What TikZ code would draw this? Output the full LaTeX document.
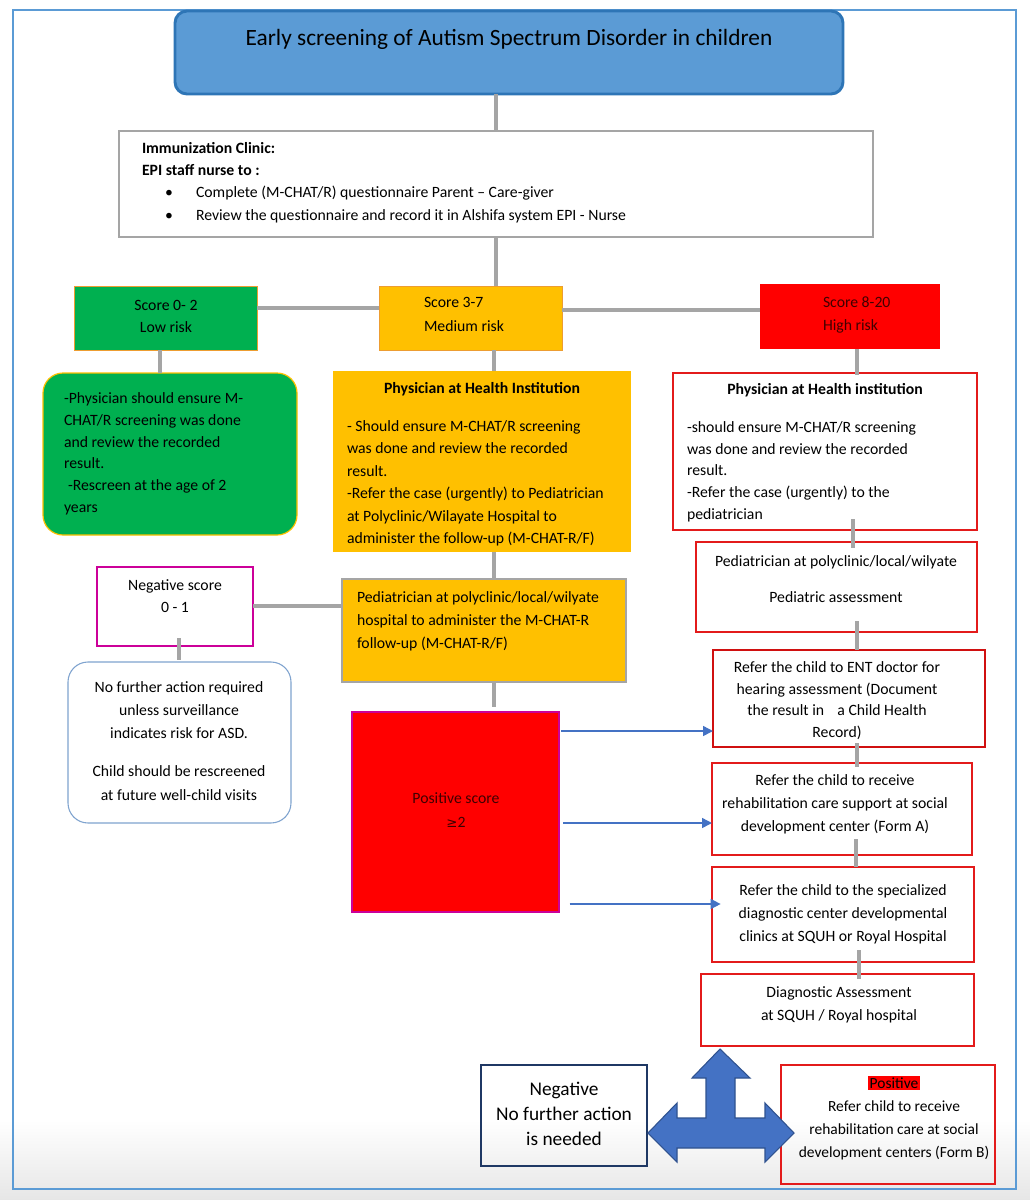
\documentclass[tikz,border=0pt]{standalone}
\usepackage{fontspec}
\setmainfont{Carlito}
\newfontfamily\dejavu{DejaVu Sans}
\usetikzlibrary{fit,arrows.meta}
\definecolor{frameblue}{HTML}{5B9BD5}
\definecolor{titlefill}{HTML}{5B9BD5}
\definecolor{titledraw}{HTML}{2E75B6}
\definecolor{barg}{HTML}{A5A5A5}
\definecolor{riskgreen}{HTML}{00B050}
\definecolor{amber}{HTML}{FFC000}
\definecolor{riskred}{HTML}{FF0000}
\definecolor{boxred}{HTML}{E31B1B}
\definecolor{entred}{HTML}{D01010}
\definecolor{edgeorange}{HTML}{ED9D31}
\definecolor{magentaedge}{HTML}{CC0099}
\definecolor{noactedge}{HTML}{7FA3CF}
\definecolor{navyedge}{HTML}{1F3864}
\definecolor{arrblue}{HTML}{4472C4}
\definecolor{arrdark}{HTML}{2F528F}
\definecolor{onred}{HTML}{400000}
\definecolor{bottomgray}{HTML}{E6E6E6}
\begin{document}
\begin{tikzpicture}[x=0.75pt,y=-0.75pt,
  bar/.style={draw=barg, line width=3.7pt},
  bx/.style={inner sep=0pt, outer sep=0pt},
  tl/.style 2 args={inner sep=0pt, outer sep=0pt, font=\fontsize{#1}{#2}\selectfont, yshift=0.7*#2-0.28*#1},
  arr/.style={draw=arrblue, line width=1.1pt, -{Triangle[length=7.5pt,width=7.5pt]}},
  redbox/.style={bx, draw=boxred, line width=1pt, fill=white},
]
\useasboundingbox (0,0) rectangle (1030,1200);
\fill[white] (0,0) rectangle (1030,1200);
\shade[top color=white, bottom color=bottomgray] (0,1120) rectangle (1030,1200);
\node[bx, draw=frameblue, line width=1.1pt, fit={(13,10) (1016,1189)}] (frame) {};

% ---------- title ----------
\node[bx, draw=titledraw, fill=titlefill, line width=2.2pt, rounded corners=9pt, fit={(175,11) (843,94)}] (title) {};
\node[tl={17.5pt}{21pt}, anchor=north] (titletxt) at (509,39) {\strut Early screening of Autism Spectrum Disorder in children};

% ---------- immunization ----------
\node[bx, draw=barg, line width=1.2pt, fill=white, fit={(119,131) (873,237)}] (imm) {};
\node[tl={11.8pt}{16.5pt}, anchor=north west, align=left] (immhead) at (142,149) {\strut\textbf{Immunization Clinic:}\\\textbf{EPI staff nurse to :}};
\node[tl={11.8pt}{17pt}, anchor=north west, align=left] (immbul) at (165,193) {\strut\textbullet\\\textbullet};
\node[tl={11.8pt}{17pt}, anchor=north west, align=left] (immtxt) at (196,193) {\strut Complete (M-CHAT/R) questionnaire Parent -- Care-giver\\Review the questionnaire and record it in Alshifa system EPI - Nurse};

% ---------- scores ----------
\node[bx, fill=riskgreen, draw=edgeorange, line width=0.7pt, fit={(74,286) (257,350)}] (s02) {};
\node[tl={11.8pt}{16.5pt}, anchor=north, align=center] (s02txt) at (166,306) {\strut Score 0- 2\\Low risk};
\node[bx, fill=amber, draw=edgeorange, line width=0.7pt, fit={(379,286) (562,350)}] (s37) {};
\node[tl={11.8pt}{18pt}, anchor=north west, align=left] (s37txt) at (424,303) {\strut Score 3-7\\Medium risk};
\node[bx, fill=riskred, fit={(760,284) (940,349)}] (s820) {};
\node[tl={11.8pt}{17.5pt}, anchor=north west, align=left, text=onred] (s820txt) at (823,303) {\strut Score 8-20\\High risk};

% ---------- low risk ----------
\node[bx, fill=riskgreen, draw=amber, line width=0.9pt, rounded corners=15pt, fit={(43,373) (297,535)}] (gbox) {};
\node[tl={11.8pt}{16.35pt}, anchor=north west, align=left] (gtxt) at (64,399) {\strut -Physician should ensure M-\\CHAT/R screening was done\\and review the recorded\\result.\\\hspace*{3pt}-Rescreen at the age of 2\\years};

% ---------- medium risk ----------
\node[bx, fill=amber, fit={(333,371) (631,552)}] (ophys) {};
\node[tl={11.8pt}{16.8pt}, anchor=north] (ophyshead) at (482,389) {\strut\textbf{Physician at Health Institution}};
\node[tl={11.8pt}{16.8pt}, anchor=north west, align=left] (ophystxt) at (347,427) {\strut - Should ensure M-CHAT/R screening\\was done and review the recorded\\result.\\-Refer the case (urgently) to Pediatrician\\at Polyclinic/Wilayate Hospital to\\administer the follow-up (M-CHAT-R/F)};

\node[bx, fill=amber, draw=barg, line width=1.5pt, fit={(342,579) (626,682)}] (pedm) {};
\node[tl={11.8pt}{17.25pt}, anchor=north west, align=left] (pedmtxt) at (357,598) {\strut Pediatrician at polyclinic/local/wilyate\\hospital to administer the M-CHAT-R\\follow-up (M-CHAT-R/F)};

\node[bx, draw=magentaedge, line width=1.2pt, fill=white, fit={(97,567) (253,646)}] (negs) {};
\node[tl={11.8pt}{16.5pt}, anchor=north, align=center] (negstxt) at (175,586) {\strut Negative score\\0 - 1};

\node[bx, draw=noactedge, line width=0.8pt, fill=white, rounded corners=15pt, fit={(68,662) (291,823)}] (noact) {};
\node[tl={11.8pt}{17.25pt}, anchor=north, align=center] (noacttxt) at (179,688) {\strut No further action required\\unless surveillance\\indicates risk for ASD.};
\node[tl={11.8pt}{18pt}, anchor=north, align=center] (noacttxtb) at (179,772) {\strut Child should be rescreened\\at future well-child visits};

\node[bx, fill=riskred, draw=magentaedge, line width=0.8pt, fit={(352,712) (559,912)}] (pos) {};
\node[tl={11.8pt}{18pt}, anchor=north, align=center, text=onred] (postxt) at (456,799) {\strut Positive score\\{\dejavu\fontsize{10pt}{18pt}\selectfont ≥}2};

% ---------- high risk ----------
\node[redbox, fit={(673,373) (977,530)}] (rphys) {};
\node[tl={11.8pt}{16.3pt}, anchor=north] (rphyshead) at (825,390) {\strut\textbf{Physician at Health institution}};
\node[tl={11.8pt}{16.3pt}, anchor=north west, align=left] (rphystxt) at (687,428) {\strut -should ensure M-CHAT/R screening\\was done and review the recorded\\result.\\-Refer the case (urgently) to the\\pediatrician};

\node[redbox, fit={(696,542) (977,632)}] (pedr) {};
\node[tl={11.8pt}{27pt}, anchor=north, align=center] (pedrtxt) at (836,562) {\strut Pediatrician at polyclinic/local/wilyate\\Pediatric assessment};

\node[bx, draw=entred, line width=1.6pt, fill=white, fit={(713,650) (985,747)}] (ent) {};
\node[tl={11.8pt}{16.3pt}, anchor=north, align=center] (enttxt) at (837,668) {\strut Refer the child to ENT doctor for\\hearing assessment (Document\\the result in\hspace{10pt}a Child Health\\Record)};

\node[redbox, fit={(712,763) (972,855)}] (rehab) {};
\node[tl={11.8pt}{17.25pt}, anchor=north, align=center] (rehabtxt) at (835,781) {\strut Refer the child to receive\\rehabilitation care support at social\\development center (Form A)};

\node[redbox, fit={(712,867) (974,962)}] (spec) {};
\node[tl={11.8pt}{17.25pt}, anchor=north, align=center] (spectxt) at (843,891) {\strut Refer the child to the specialized\\diagnostic center developmental\\clinics at SQUH or Royal Hospital};

\node[redbox, fit={(701,974) (974,1046)}] (diag) {};
\node[tl={11.8pt}{17.25pt}, anchor=north, align=center] (diagtxt) at (839,993) {\strut Diagnostic Assessment\\at SQUH / Royal hospital};

% ---------- outcome ----------
\node[bx, draw=navyedge, line width=1.3pt, fit={(481,1065) (647,1166)}] (negb) {};
\node[tl={14.5pt}{18.75pt}, anchor=north, align=center] (negbtxt) at (564,1090) {\strut Negative\\No further action\\is needed};

\node[bx, draw=boxred, line width=1.2pt, fit={(781,1065) (995,1184)}] (posb) {};
\node[tl={11.6pt}{17.25pt}, anchor=north, align=center] (posbtxt) at (894,1084) {\strut{\fboxsep=1.5pt\colorbox{riskred}{Positive}}\\Refer child to receive\\rehabilitation care at social\\development centers (Form B)};

\filldraw[fill=arrblue, draw=arrdark, line width=0.8pt]
  (720,1049) -- (750,1078) -- (735,1078) -- (735,1118) -- (765,1118) -- (765,1103)
  -- (794,1133) -- (765,1162) -- (765,1148) -- (677,1148) -- (677,1162) -- (648,1133)
  -- (677,1103) -- (677,1118) -- (706,1118) -- (706,1078) -- (692,1078) -- cycle;

% ---------- connectors ----------
\coordinate (xa) at (496,0);
\coordinate (xb) at (494,0);
\coordinate (xc) at (160,0);
\coordinate (xd) at (857,0);
\coordinate (xe) at (853,0);
\coordinate (xg) at (856,0);
\coordinate (xh) at (859,0);
\coordinate (xi) at (179,0);
\coordinate (ya) at (0,308);
\coordinate (yb) at (0,310);
\coordinate (yc) at (0,606);
\coordinate (ar1) at (0,731);
\coordinate (ar2) at (0,823);
\coordinate (ar3) at (0,904);

\draw[bar] (title.south -| xa) -- (imm.north -| xa);
\draw[bar] (imm.south -| xa) -- (s37.north -| xa);
\draw[bar] (s02.east |- ya) -- (s37.west |- ya);
\draw[bar] (s37.east |- yb) -- (s820.west |- yb);
\draw[bar] (s02.south -| xc) -- (gbox.north -| xc);
\draw[bar] (s37.south -| xb) -- (ophys.north -| xb);
\draw[bar, shorten >=-1.5pt] (s820.south -| xd) -- (rphys.north -| xd);
\draw[bar, shorten <=-8pt, shorten >=-4.5pt] (rphys.south -| xe) -- (pedr.north -| xe);
\draw[bar, shorten <=-8pt] (pedr.south -| xd) -- (ent.north -| xd);
\draw[bar, shorten <=-3pt, shorten >=-3pt] (ent.south -| xd) -- (rehab.north -| xd);
\draw[bar, shorten <=-12pt] (rehab.south -| xg) -- (spec.north -| xg);
\draw[bar, shorten <=-9pt, shorten >=-3.5pt] (spec.south -| xh) -- (diag.north -| xh);
\draw[bar] (ophys.south -| xb) -- (pedm.north -| xb);
\draw[bar] (negs.east |- yc) -- (pedm.west |- yc);
\draw[bar, shorten <=-6pt, shorten >=1.5pt] (negs.south -| xi) -- (noact.north -| xi);
\draw[bar, shorten >=3.5pt] (pedm.south -| xb) -- (pos.north -| xb);

\draw[arr, shorten <=1.5pt] (pos.east |- ar1) -- (ent.west |- ar1);
\draw[arr, shorten <=3pt] (pos.east |- ar2) -- (rehab.west |- ar2);
\draw[arr, shorten <=8pt, shorten >=-6.5pt] (pos.east |- ar3) -- (spec.west |- ar3);
\end{tikzpicture}
\end{document}
